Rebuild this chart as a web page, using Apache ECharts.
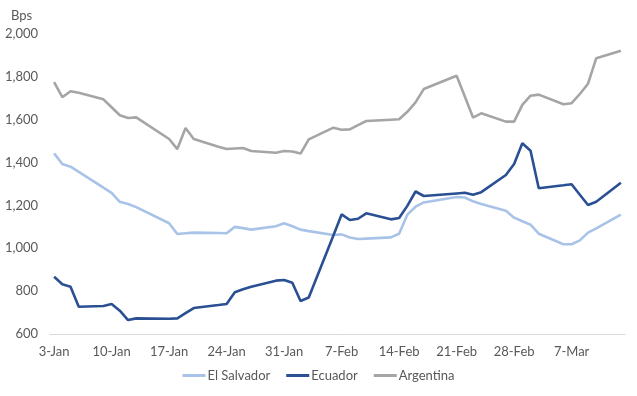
<!DOCTYPE html>
<html>
<head>
<meta charset="utf-8">
<script src="https://cdn.jsdelivr.net/npm/echarts@6/dist/echarts.min.js"></script>
<style>
html,body{margin:0;padding:0;background:#fff;}
#chart{width:637px;height:396px;}
</style>
</head>
<body>
<div id="chart"></div>
<script>
// Trading days (2023)
var dates = ['3-Jan','4-Jan','5-Jan','6-Jan',
  '9-Jan','10-Jan','11-Jan','12-Jan','13-Jan',
  '16-Jan','17-Jan','18-Jan','19-Jan','20-Jan',
  '23-Jan','24-Jan','25-Jan','26-Jan','27-Jan',
  '30-Jan','31-Jan','1-Feb','2-Feb','3-Feb',
  '6-Feb','7-Feb','8-Feb','9-Feb','10-Feb',
  '13-Feb','14-Feb','15-Feb','16-Feb','17-Feb',
  '20-Feb','21-Feb','22-Feb','23-Feb','24-Feb',
  '27-Feb','28-Feb','1-Mar','2-Mar','3-Mar',
  '6-Mar','7-Mar','8-Mar','9-Mar','10-Mar',
  '13-Mar'];

var elSalvador = [1443,1393,1381,1357,
  1283,1259,1217,1207,1192,
  null,1117,1067,1070,1073,
  1071,1070,1100,1094,1087,
  1103,1117,1103,1087,1080,
  1062,1065,1050,1043,1045,
  1051,1068,1157,1194,1214,
  null,1239,1237,1219,1207,
  1175,1143,1126,1110,1068,
  1019,1019,1037,1073,1093,
  1157];

var ecuador = [867,832,821,727,
  731,740,709,665,673,
  null,671,673,697,721,
  735,740,795,809,821,
  849,852,839,754,770,
  1060,1158,1132,1138,1163,
  1135,1141,1198,1265,1244,
  null,1256,1259,1250,1262,
  1342,1393,1490,1455,1280,
  1294,1299,1250,1202,1217,
  1306];

var argentina = [1775,1705,1733,1726,
  1695,1658,1621,1608,1611,
  null,1510,1463,1561,1510,
  1474,1463,1466,1468,1454,
  1446,1454,1452,1442,1508,
  1563,1553,1555,1575,1594,
  1600,1602,1637,1681,1743,
  null,1805,1708,1610,1630,
  1591,1591,1669,1712,1717,
  1672,1677,1720,1768,1887,
  1922];

var seriesNames = ['El Salvador','Ecuador','Argentina'];
var yTicks = {min: 600, max: 2000, interval: 200};

// calendar-day categories (date axis like the original)
var months = ['Jan','Feb','Mar','Apr'];
var categories = [];
var d = new Date(2023, 0, 3);
var end = new Date(2023, 2, 13);
while (d <= end) {
  categories.push(d.getDate() + '-' + months[d.getMonth()]);
  d.setDate(d.getDate() + 1);
}
function align(vals) {
  var map = {};
  dates.forEach(function (k, i) { map[k] = vals[i]; });
  return categories.map(function (c) { return (c in map) ? map[c] : null; });
}

var font = 'Lato, "Noto Sans", sans-serif';
var txt = '#595959';
var colors = ['#a9c3e8', '#2a4f93', '#a5a5a5'];
var vals = [elSalvador, ecuador, argentina];

var chart = echarts.init(document.getElementById('chart'), null, {renderer: 'canvas'});
chart.setOption({
  animation: false,
  textStyle: {fontFamily: font},
  title: {text: 'Bps', left: 6, top: 4,
    textStyle: {fontFamily: font, fontSize: 13, fontWeight: 'normal', color: txt}},
  grid: {left: 50, right: 12, top: 34, bottom: 62, containLabel: false},
  legend: {
    bottom: 9, left: 'center', icon: 'rect', itemWidth: 23, itemHeight: 3, itemGap: 16,
    textStyle: {fontFamily: font, fontSize: 13, color: txt, padding: [0,0,0,-3]},
    data: seriesNames
  },
  xAxis: {
    type: 'category', data: categories, boundaryGap: true,
    axisLine: {lineStyle: {color: '#d9d9d9', width: 1}},
    axisTick: {show: false},
    axisLabel: {interval: 6, color: txt, fontSize: 13, fontFamily: font, margin: 11}
  },
  yAxis: {
    type: 'value', min: yTicks.min, max: yTicks.max, interval: yTicks.interval,
    axisLine: {show: false}, axisTick: {show: false}, splitLine: {show: false},
    axisLabel: {color: txt, fontSize: 13, fontFamily: font, margin: 12,
      formatter: function (v) { return v.toLocaleString('en-US'); }}
  },
  series: seriesNames.map(function (n, i) {
    return {
      name: n, type: 'line', data: align(vals[i]), connectNulls: true,
      showSymbol: false, symbol: 'none',
      lineStyle: {color: colors[i], width: 2.6}, itemStyle: {color: colors[i]},
      z: i === 1 ? 3 : 2
    };
  })
});
</script>
</body>
</html>
